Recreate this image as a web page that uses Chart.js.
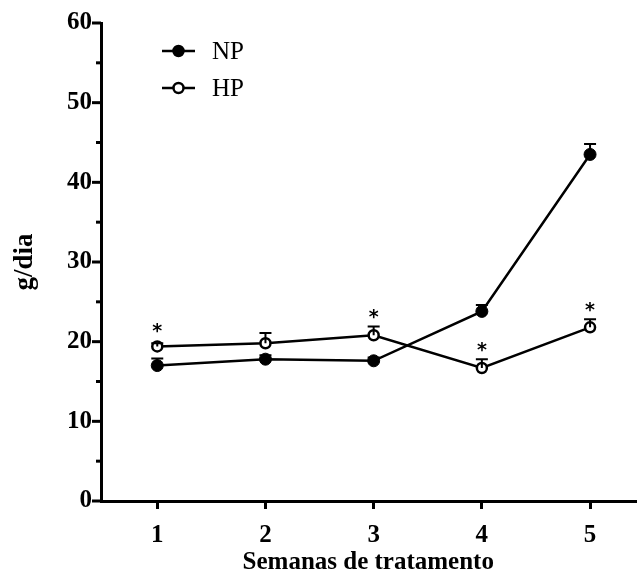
<!DOCTYPE html>
<html>
<head>
<meta charset="utf-8">
<script src="https://cdn.jsdelivr.net/npm/chart.js@4.4.1/dist/chart.umd.min.js"></script>
<style>
html,body{margin:0;padding:0;background:#fff;}
#wrap{width:643px;height:574px;position:relative;}
</style>
</head>
<body>
<div id="wrap"><canvas id="c" width="643" height="574"></canvas></div>
<script>
const weeks = [1, 2, 3, 4, 5];
const npValues = [17.0, 17.8, 17.6, 23.8, 43.5];
const npErr = [0.9, 0.5, 0.4, 0.8, 1.3];
const hpValues = [19.4, 19.8, 20.8, 16.7, 21.8];
const hpErr = [0.4, 1.3, 1.1, 1.1, 1.0];
const hpSignificant = [true, false, true, true, true];
const yTicks = [0, 10, 20, 30, 40, 50, 60];
const yMinorTicks = [5, 15, 25, 35, 45, 55];
const seriesLabels = ['NP', 'HP'];
const xTitle = 'Semanas de tratamento';
const yTitle = 'g/dia';

const SERIF = '"Liberation Serif","DejaVu Serif",serif';

const overlay = {
  id: 'overlay',
  afterDatasetsDraw(chart) {
    const ctx = chart.ctx;
    const xs = chart.scales.x, ys = chart.scales.y;
    ctx.save();
    const drawErr = (vals, errs) => {
      ctx.strokeStyle = '#000';
      ctx.lineWidth = 2;
      vals.forEach((v, i) => {
        const px = xs.getPixelForValue(weeks[i]);
        const py = ys.getPixelForValue(v);
        const pt = ys.getPixelForValue(v + errs[i]);
        ctx.beginPath();
        ctx.moveTo(px, py); ctx.lineTo(px, pt);
        ctx.moveTo(px - 6, pt); ctx.lineTo(px + 6, pt);
        ctx.stroke();
      });
    };
    drawErr(npValues, npErr);
    drawErr(hpValues, hpErr);
    ctx.fillStyle = '#000';
    ctx.font = 'bold 19px "DejaVu Sans",sans-serif';
    ctx.textAlign = 'center';
    ctx.textBaseline = 'middle';
    hpValues.forEach((v, i) => {
      if (!hpSignificant[i]) return;
      const px = xs.getPixelForValue(weeks[i]);
      const pt = Math.min(ys.getPixelForValue(v + hpErr[i]), ys.getPixelForValue(v) - 6);
      ctx.fillText('*', px, pt - 8);
    });
    ctx.restore();
  },
  afterDraw(chart) {
    const ctx = chart.ctx;
    const ys = chart.scales.y;
    const left = chart.chartArea.left;
    ctx.save();
    ctx.strokeStyle = '#000';
    ctx.lineWidth = 3;
    yTicks.forEach(v => {
      const py = ys.getPixelForValue(v);
      ctx.beginPath(); ctx.moveTo(left - 9, py); ctx.lineTo(left, py); ctx.stroke();
    });
    yMinorTicks.forEach(v => {
      const py = ys.getPixelForValue(v);
      ctx.beginPath(); ctx.moveTo(left - 5, py); ctx.lineTo(left, py); ctx.stroke();
    });
    const items = [
      {label: chart.data.datasets[0].label, fill: '#000', y: 51},
      {label: chart.data.datasets[1].label, fill: '#fff', y: 88}
    ];
    items.forEach(it => {
      ctx.lineWidth = 2.5;
      ctx.strokeStyle = '#000';
      ctx.beginPath(); ctx.moveTo(162, it.y); ctx.lineTo(195, it.y); ctx.stroke();
      ctx.beginPath(); ctx.arc(178.5, it.y, 5, 0, Math.PI * 2);
      ctx.fillStyle = it.fill; ctx.fill(); ctx.stroke();
      ctx.fillStyle = '#000';
      ctx.font = '25px ' + SERIF;
      ctx.textAlign = 'left';
      ctx.textBaseline = 'middle';
      ctx.fillText(it.label, 212, it.y + 1);
    });
    ctx.restore();
  }
};

new Chart(document.getElementById('c'), {
  type: 'line',
  data: {
    datasets: [
      {
        label: seriesLabels[0],
        data: weeks.map((w, i) => ({x: w, y: npValues[i]})),
        borderColor: '#000', borderWidth: 2.5,
        pointRadius: 6, pointBackgroundColor: '#000', pointBorderColor: '#000', pointBorderWidth: 1,
        tension: 0, fill: false
      },
      {
        label: seriesLabels[1],
        data: weeks.map((w, i) => ({x: w, y: hpValues[i]})),
        borderColor: '#000', borderWidth: 2.5,
        pointRadius: 5, pointBackgroundColor: '#fff', pointBorderColor: '#000', pointBorderWidth: 2.5,
        tension: 0, fill: false
      }
    ]
  },
  options: {
    responsive: false,
    animation: false,
    layout: {padding: {top: 23, right: 0, bottom: 0, left: 0}},
    plugins: {legend: {display: false}, tooltip: {enabled: false}},
    scales: {
      x: {
        type: 'linear', min: 0.48, max: 5.42,
        afterBuildTicks: s => { s.ticks = weeks.map(v => ({value: v})); },
        afterFit: s => { s.height = 73; },
        border: {display: true, color: '#000', width: 3},
        grid: {display: true, drawOnChartArea: false, color: '#000', tickColor: '#000', tickLength: 8, lineWidth: 3},
        ticks: {color: '#000', font: {family: SERIF, size: 25, weight: 'bold'}, padding: 12, maxRotation: 0},
        title: {display: true, text: xTitle, color: '#000', font: {family: SERIF, size: 25, weight: 'bold'}, padding: {top: 0, bottom: -4}}
      },
      y: {
        min: 0, max: 60,
        afterBuildTicks: s => { s.ticks = yTicks.map(v => ({value: v})); },
        afterFit: s => { s.width = 101; },
        border: {display: true, color: '#000', width: 3},
        grid: {display: false, drawTicks: true, tickLength: 8},
        ticks: {color: '#000', font: {family: SERIF, size: 25, weight: 'bold'}, padding: 1},
        title: {display: true, text: yTitle, color: '#000', font: {family: SERIF, size: 27, weight: 'bold'}, padding: {top: 9, bottom: 0}}
      }
    }
  },
  plugins: [overlay]
});
</script>
</body>
</html>
